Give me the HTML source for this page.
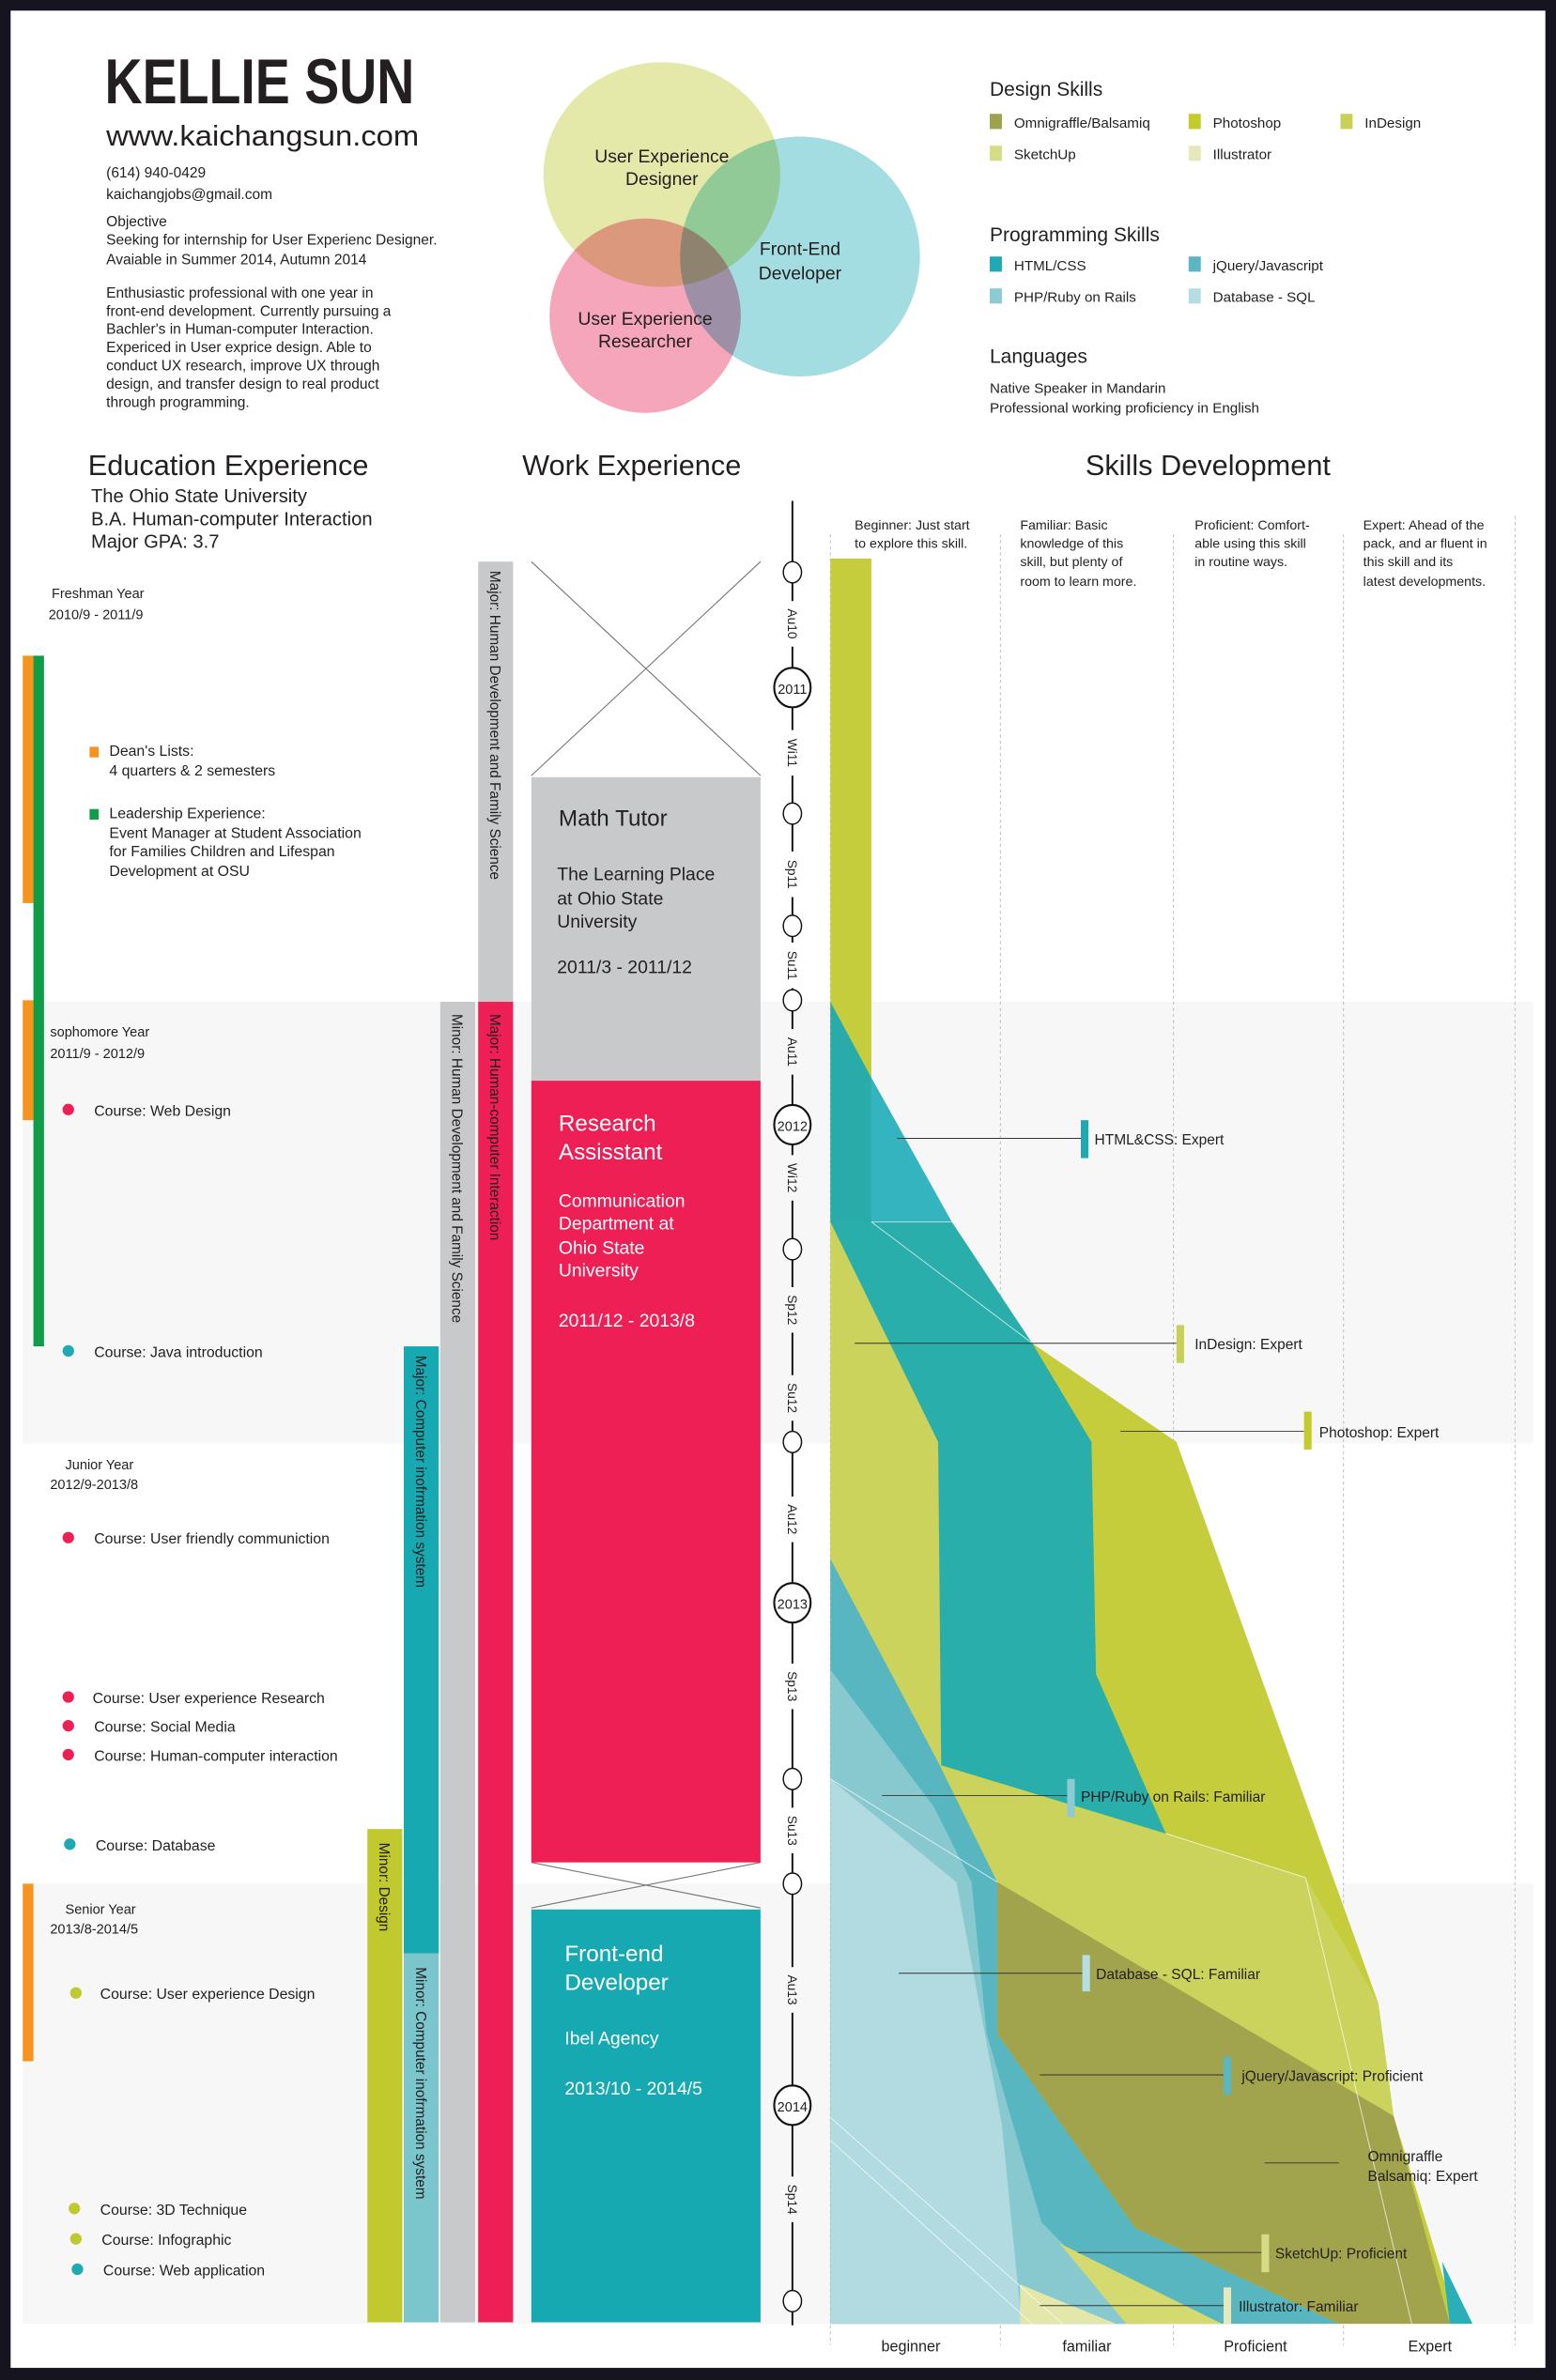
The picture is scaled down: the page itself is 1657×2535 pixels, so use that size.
<!DOCTYPE html>
<html><head><meta charset="utf-8"><style>
html,body{margin:0;padding:0;background:#16141f;}
svg{display:block}
text{font-family:"Liberation Sans Narrow","Liberation Sans",sans-serif;fill:#231f20}
</style></head><body>
<svg width="1657" height="2535" viewBox="0 0 1025 1568" preserveAspectRatio="none" xmlns="http://www.w3.org/2000/svg">
<rect x="0" y="0" width="1025" height="1568" fill="#16141f"/>
<rect x="7" y="7" width="1011" height="1553" fill="#ffffff"/>
<rect x="15" y="660" width="995" height="291" fill="#f7f7f7"/>
<rect x="15" y="1241" width="995" height="290" fill="#f7f7f7"/>

<text x="69" y="68" font-weight="bold" font-size="42" textLength="204" lengthAdjust="spacingAndGlyphs" style="font-family:'Liberation Sans';fill:#231f20">KELLIE SUN</text>
<text x="70" y="96" font-size="19" textLength="206" lengthAdjust="spacingAndGlyphs">www.kaichangsun.com</text>
<g font-size="9.6">
<text x="70" y="117">(614) 940-0429</text>
<text x="70" y="131">kaichangjobs@gmail.com</text>
<text x="70" y="149">Objective</text>
<text x="70" y="161">Seeking for internship for User Experienc Designer.</text>
<text x="70" y="174">Avaiable in Summer 2014, Autumn 2014</text>
<text x="70" y="196">Enthusiastic professional with one year in</text>
<text x="70" y="208">front-end development. Currently pursuing a</text>
<text x="70" y="220">Bachler's in Human-computer Interaction.</text>
<text x="70" y="232">Expericed in User exprice design. Able to</text>
<text x="70" y="244">conduct UX research, improve UX through</text>
<text x="70" y="256">design, and transfer design to real product</text>
<text x="70" y="268">through programming.</text>
</g>

<ellipse cx="436" cy="115" rx="78" ry="74" fill="#e4e9aa" style="mix-blend-mode:multiply"/>
<ellipse cx="527" cy="169" rx="79" ry="79" fill="#a3dde2" style="mix-blend-mode:multiply"/>
<ellipse cx="425" cy="208" rx="63" ry="64" fill="#f6a6bb" style="mix-blend-mode:multiply"/>
<g font-size="12" text-anchor="middle">
<text x="436" y="107">User Experience</text><text x="436" y="122">Designer</text>
<text x="527" y="168">Front-End</text><text x="527" y="184">Developer</text>
<text x="425" y="214">User Experience</text><text x="425" y="229">Researcher</text>
</g>

<g font-size="13"><text x="652" y="63">Design Skills</text><text x="652" y="159">Programming Skills</text><text x="652" y="239">Languages</text></g>
<g font-size="9.4">
<rect x="652" y="75" width="8" height="10" fill="#9ea24e"/><text x="668" y="84">Omnigraffle/Balsamiq</text>
<rect x="783" y="75" width="8" height="10" fill="#c4cc2c"/><text x="799" y="84">Photoshop</text>
<rect x="883" y="75" width="8" height="10" fill="#c9d058"/><text x="899" y="84">InDesign</text>
<rect x="652" y="96" width="8" height="10" fill="#d6dc86"/><text x="668" y="105">SketchUp</text>
<rect x="783" y="96" width="8" height="10" fill="#e6e8bc"/><text x="799" y="105">Illustrator</text>
<rect x="652" y="169" width="8" height="10" fill="#1ea9b3"/><text x="668" y="178">HTML/CSS</text>
<rect x="783" y="169" width="8" height="10" fill="#5ab6c2"/><text x="799" y="178">jQuery/Javascript</text>
<rect x="652" y="190" width="8" height="10" fill="#8ccbd3"/><text x="668" y="199">PHP/Ruby on Rails</text>
<rect x="783" y="190" width="8" height="10" fill="#b5dde3"/><text x="799" y="199">Database - SQL</text>
<text x="652" y="259">Native Speaker in Mandarin</text>
<text x="652" y="272">Professional working proficiency in English</text>
</g>

<g font-size="19">
<text x="58" y="313">Education Experience</text>
<text x="344" y="313">Work Experience</text>
<text x="715" y="313">Skills Development</text>
</g>
<g font-size="12.5">
<text x="60" y="331">The Ohio State University</text>
<text x="60" y="346">B.A. Human-computer Interaction</text>
<text x="60" y="361">Major GPA: 3.7</text>
</g>

<rect x="15" y="432" width="7" height="163" fill="#f7941d"/>
<rect x="22" y="432" width="7" height="455" fill="#0f9d48"/>
<rect x="15" y="659" width="7" height="79" fill="#f7941d"/>
<rect x="15" y="1241" width="7" height="117" fill="#f7941d"/>

<g font-size="9">
<text x="34" y="394">Freshman Year</text><text x="32" y="408">2010/9 - 2011/9</text>
<text x="33" y="683">sophomore Year</text><text x="33" y="697">2011/9 - 2012/9</text>
<text x="43" y="968">Junior Year</text><text x="33" y="981">2012/9-2013/8</text>
<text x="43" y="1261">Senior Year</text><text x="33" y="1274">2013/8-2014/5</text>
</g>
<g font-size="9.8">
<rect x="59" y="492" width="6" height="7" fill="#f7941d"/>
<text x="72" y="498">Dean's Lists:</text><text x="72" y="511">4 quarters &amp; 2 semesters</text>
<rect x="59" y="533" width="6" height="7" fill="#0f9d48"/>
<text x="72" y="539">Leadership Experience:</text><text x="72" y="552">Event Manager at Student Association</text>
<text x="72" y="564">for Families Children and Lifespan</text><text x="72" y="577">Development at OSU</text>
<circle cx="45" cy="731" r="3.8" fill="#ee1f55"/><text x="62" y="735">Course: Web Design</text>
<circle cx="45" cy="890" r="3.8" fill="#1ea9b3"/><text x="62" y="894">Course: Java introduction</text>
<circle cx="45" cy="1013" r="3.8" fill="#ee1f55"/><text x="62" y="1017">Course: User friendly communiction</text>
<circle cx="45" cy="1118" r="3.8" fill="#ee1f55"/><text x="61" y="1122">Course: User experience Research</text>
<circle cx="45" cy="1137" r="3.8" fill="#ee1f55"/><text x="62" y="1141">Course: Social Media</text>
<circle cx="45" cy="1156" r="3.8" fill="#ee1f55"/><text x="62" y="1160">Course: Human-computer interaction</text>
<circle cx="46" cy="1215" r="3.8" fill="#1ea9b3"/><text x="63" y="1219">Course: Database</text>
<circle cx="50" cy="1313" r="3.8" fill="#c0c92d"/><text x="66" y="1317">Course: User experience Design</text>
<circle cx="49" cy="1455" r="3.8" fill="#c0c92d"/><text x="66" y="1459">Course: 3D Technique</text>
<circle cx="50" cy="1475" r="3.8" fill="#c0c92d"/><text x="67" y="1479">Course: Infographic</text>
<circle cx="51" cy="1495" r="3.8" fill="#1ea9b3"/><text x="68" y="1499">Course: Web application</text>
</g>

<rect x="315" y="370" width="23" height="290" fill="#c8c9cb"/>
<rect x="290" y="660" width="23" height="870" fill="#c8c9cb"/>
<rect x="315" y="660" width="23" height="870" fill="#ee1f55"/>
<rect x="266" y="887" width="23" height="400" fill="#17a9b2"/>
<rect x="266" y="1287" width="23" height="243" fill="#7bc5cc"/>
<rect x="242" y="1205" width="23" height="325" fill="#c0c92d"/>
<g font-size="9.5" style="font-family:'Liberation Sans'">
<text transform="translate(323,376) rotate(90)" style="font-family:'Liberation Sans'">Major: Human Development and Family Science</text>
<text transform="translate(298,668) rotate(90)" style="font-family:'Liberation Sans'">Minor: Human Development and Family Science</text>
<text transform="translate(323,668) rotate(90)" style="font-family:'Liberation Sans'">Major: Human-computer Interaction</text>
<text transform="translate(274,893) rotate(90)" style="font-family:'Liberation Sans'">Major: Computer inofrmation system</text>
<text transform="translate(274,1296) rotate(90)" style="font-family:'Liberation Sans'">Minor: Computer inofrmation system</text>
<text transform="translate(250,1214) rotate(90)" style="font-family:'Liberation Sans'">Minor: Design</text>
</g>

<g stroke="#777" stroke-width="0.7">
<line x1="350" y1="370" x2="501" y2="511"/><line x1="501" y1="370" x2="350" y2="511"/>
<line x1="350" y1="1227" x2="501" y2="1257"/><line x1="501" y1="1227" x2="350" y2="1257"/>
</g>
<rect x="350" y="512" width="151" height="200" fill="#c8c9cb"/>
<rect x="350" y="712" width="151" height="515" fill="#ee1f55"/>
<rect x="350" y="1258" width="151" height="272" fill="#17a9b2"/>
<text x="368" y="544" font-size="15">Math Tutor</text>
<g font-size="12"><text x="367" y="580">The Learning Place</text><text x="367" y="596">at Ohio State</text><text x="367" y="611">University</text><text x="367" y="641">2011/3 - 2011/12</text></g>
<text x="368" y="745" font-size="15" style="fill:#fff">Research</text><text x="368" y="764" font-size="15" style="fill:#fff">Assisstant</text>
<text x="368" y="795" font-size="12" style="fill:#fff">Communication</text><text x="368" y="810" font-size="12" style="fill:#fff">Department at</text>
<text x="368" y="826" font-size="12" style="fill:#fff">Ohio State</text><text x="368" y="841" font-size="12" style="fill:#fff">University</text>
<text x="368" y="874" font-size="12" style="fill:#fff">2011/12 - 2013/8</text>
<text x="372" y="1292" font-size="15" style="fill:#fff">Front-end</text><text x="372" y="1311" font-size="15" style="fill:#fff">Developer</text>
<text x="372" y="1347" font-size="12" style="fill:#fff">Ibel Agency</text>
<text x="372" y="1380" font-size="12" style="fill:#fff">2013/10 - 2014/5</text>

<g stroke="#bbb" stroke-width="0.6" stroke-dasharray="2,2">
<line x1="547" y1="352" x2="547" y2="1545"/><line x1="659" y1="352" x2="659" y2="1545"/>
<line x1="773" y1="352" x2="773" y2="1545"/><line x1="885" y1="352" x2="885" y2="1545"/>
<line x1="998" y1="340" x2="998" y2="1545"/>
</g>
<g font-size="8.8">
<text x="563" y="349">Beginner: Just start</text><text x="563" y="361">to explore this skill.</text>
<text x="672" y="349">Familiar: Basic</text><text x="672" y="361">knowledge of this</text><text x="672" y="373">skill, but plenty of</text><text x="672" y="386">room to learn more.</text>
<text x="787" y="349">Proficient: Comfort-</text><text x="787" y="361">able using this skill</text><text x="787" y="373">in routine ways.</text>
<text x="898" y="349">Expert: Ahead of the</text><text x="898" y="361">pack, and ar fluent in</text><text x="898" y="373">this skill and its</text><text x="898" y="386">latest developments.</text>
</g>
<g font-size="10" text-anchor="middle"><text x="600" y="1549">beginner</text><text x="716" y="1549">familiar</text><text x="827" y="1549">Proficient</text><text x="942" y="1549">Expert</text></g>

<polygon points="547,368 574,368 574,805 680,885 775,950 908,1320 918,1394 960,1531 547,1531" fill="#c5cd3c"/>
<polygon points="547,805 618,950 620,1163 768,1208 860,1237 908,1320 918,1394 657,1240 547,1100" fill="#cbd35c"/>
<polygon points="547,660 574,710 574,805 547,805" fill="#29aca9"/>
<polygon points="574,710 627,805 574,805" fill="#33b4bf"/>
<polygon points="547,805 574,805 627,805 680,885 719,950 722,1103 768,1208 620,1163 618,950" fill="#2aaeac"/>
<polygon points="547,1027 618,1161 657,1240 657,1340 748,1468 882,1531 547,1531" fill="#58b6c0"/>
<polygon points="547,1100 615,1190 640,1240 650,1340 686,1464 752,1531 547,1531" fill="#88c9d0"/>
<polygon points="547,1172 630,1240 660,1400 673,1531 547,1531" fill="#b1dbe0"/>
<polygon points="657,1240 918,1394 955,1531 882,1531 748,1468 657,1340" fill="#a1a44d"/>
<polygon points="950,1490 970,1531 955,1531" fill="#2aaeb8"/>
<polygon points="672,1505 735,1531 672,1531" fill="#e4e7aa"/>
<polygon points="698,1478 805,1531 742,1531" fill="#d4da70"/>
<g stroke="#fff" stroke-width="0.6" opacity="0.7" fill="none">
<line x1="547" y1="1395" x2="700" y2="1531"/><line x1="547" y1="1410" x2="680" y2="1531"/>
<line x1="547" y1="1172" x2="657" y2="1240"/><line x1="768" y1="1208" x2="860" y2="1237"/>
<line x1="860" y1="1237" x2="930" y2="1531"/><line x1="574" y1="805" x2="627" y2="805"/>
<line x1="574" y1="805" x2="680" y2="885"/>
</g>

<g stroke="#333" stroke-width="0.6">
<line x1="591" y1="750" x2="712" y2="750"/><line x1="563" y1="885" x2="775" y2="885"/>
<line x1="738" y1="943" x2="859" y2="943"/><line x1="581" y1="1183" x2="703" y2="1183"/>
<line x1="592" y1="1300" x2="713" y2="1300"/><line x1="685" y1="1367" x2="806" y2="1367"/>
<line x1="833" y1="1425" x2="882" y2="1425"/><line x1="710" y1="1484" x2="831" y2="1484"/>
<line x1="685" y1="1519" x2="806" y2="1519"/>
</g>
<rect x="712" y="738" width="5" height="25" fill="#1ea9b3"/>
<rect x="775" y="873" width="5" height="25" fill="#c9d058"/>
<rect x="859" y="930" width="5" height="25" fill="#c4cc2c"/>
<rect x="703" y="1172" width="5" height="25" fill="#8ccbd3"/>
<rect x="713" y="1288" width="5" height="24" fill="#b5dde3"/>
<rect x="806" y="1355" width="5" height="25" fill="#5ab6c2"/>
<rect x="831" y="1472" width="5" height="25" fill="#d6dc86"/>
<rect x="806" y="1507" width="5" height="24" fill="#e6e8bc"/>
<g font-size="9.6">
<text x="721" y="754">HTML&amp;CSS: Expert</text>
<text x="787" y="889">InDesign: Expert</text>
<text x="869" y="947">Photoshop: Expert</text>
<text x="712" y="1187">PHP/Ruby on Rails: Familiar</text>
<text x="722" y="1304">Database - SQL: Familiar</text>
<text x="818" y="1371">jQuery/Javascript: Proficient</text>
<text x="901" y="1424">Omnigraffle</text><text x="901" y="1437">Balsamiq: Expert</text>
<text x="840" y="1488">SketchUp: Proficient</text>
<text x="816" y="1523">Illustrator: Familiar</text>
</g>

<line x1="522" y1="330" x2="522" y2="1532" stroke="#111" stroke-width="1.2"/>
<g font-size="8.5" text-anchor="middle">
<rect x="516" y="396" width="12" height="30" fill="#fff"/><text transform="translate(519,411) rotate(90)" style="font-family:'Liberation Sans'">Au10</text>
<rect x="516" y="481" width="12" height="30" fill="#fff"/><text transform="translate(519,496) rotate(90)" style="font-family:'Liberation Sans'">Wi11</text>
<rect x="516" y="561" width="12" height="30" fill="#fff"/><text transform="translate(519,576) rotate(90)" style="font-family:'Liberation Sans'">Sp11</text>
<rect x="516" y="621" width="12" height="30" fill="#fff"/><text transform="translate(519,636) rotate(90)" style="font-family:'Liberation Sans'">Su11</text>
<rect x="516" y="678" width="12" height="30" fill="#f7f7f7"/><text transform="translate(519,693) rotate(90)" style="font-family:'Liberation Sans'">Au11</text>
<rect x="516" y="761" width="12" height="30" fill="#f7f7f7"/><text transform="translate(519,776) rotate(90)" style="font-family:'Liberation Sans'">Wi12</text>
<rect x="516" y="848" width="12" height="30" fill="#f7f7f7"/><text transform="translate(519,863) rotate(90)" style="font-family:'Liberation Sans'">Sp12</text>
<rect x="516" y="906" width="12" height="30" fill="#f7f7f7"/><text transform="translate(519,921) rotate(90)" style="font-family:'Liberation Sans'">Su12</text>
<rect x="516" y="986" width="12" height="30" fill="#fff"/><text transform="translate(519,1001) rotate(90)" style="font-family:'Liberation Sans'">Au12</text>
<rect x="516" y="1096" width="12" height="30" fill="#fff"/><text transform="translate(519,1111) rotate(90)" style="font-family:'Liberation Sans'">Sp13</text>
<rect x="516" y="1191" width="12" height="30" fill="#fff"/><text transform="translate(519,1206) rotate(90)" style="font-family:'Liberation Sans'">Su13</text>
<rect x="516" y="1296" width="12" height="30" fill="#f7f7f7"/><text transform="translate(519,1311) rotate(90)" style="font-family:'Liberation Sans'">Au13</text>
<rect x="516" y="1434" width="12" height="30" fill="#f7f7f7"/><text transform="translate(519,1449) rotate(90)" style="font-family:'Liberation Sans'">Sp14</text>
</g>
<g fill="#fff" stroke="#111" stroke-width="0.9">
<ellipse cx="522" cy="377" rx="6" ry="7"/><ellipse cx="522" cy="536" rx="6" ry="7"/>
<ellipse cx="522" cy="610" rx="6" ry="7"/><ellipse cx="522" cy="659" rx="6" ry="7"/>
<ellipse cx="522" cy="823" rx="6" ry="7"/><ellipse cx="522" cy="950" rx="6" ry="7"/>
<ellipse cx="522" cy="1172" rx="6" ry="7"/><ellipse cx="522" cy="1241" rx="6" ry="7"/>
<ellipse cx="522" cy="1516" rx="6" ry="7"/>
</g>
<g fill="#fff" stroke="#111" stroke-width="1.3">
<ellipse cx="522" cy="453" rx="12" ry="13"/><ellipse cx="522" cy="741" rx="12" ry="13"/>
<ellipse cx="522" cy="1056" rx="12" ry="13"/><ellipse cx="522" cy="1387" rx="12" ry="13"/>
</g>
<g font-size="9" text-anchor="middle">
<text x="522" y="457">2011</text><text x="522" y="745">2012</text><text x="522" y="1060">2013</text><text x="522" y="1391">2014</text>
</g>
</svg>
</body></html>
